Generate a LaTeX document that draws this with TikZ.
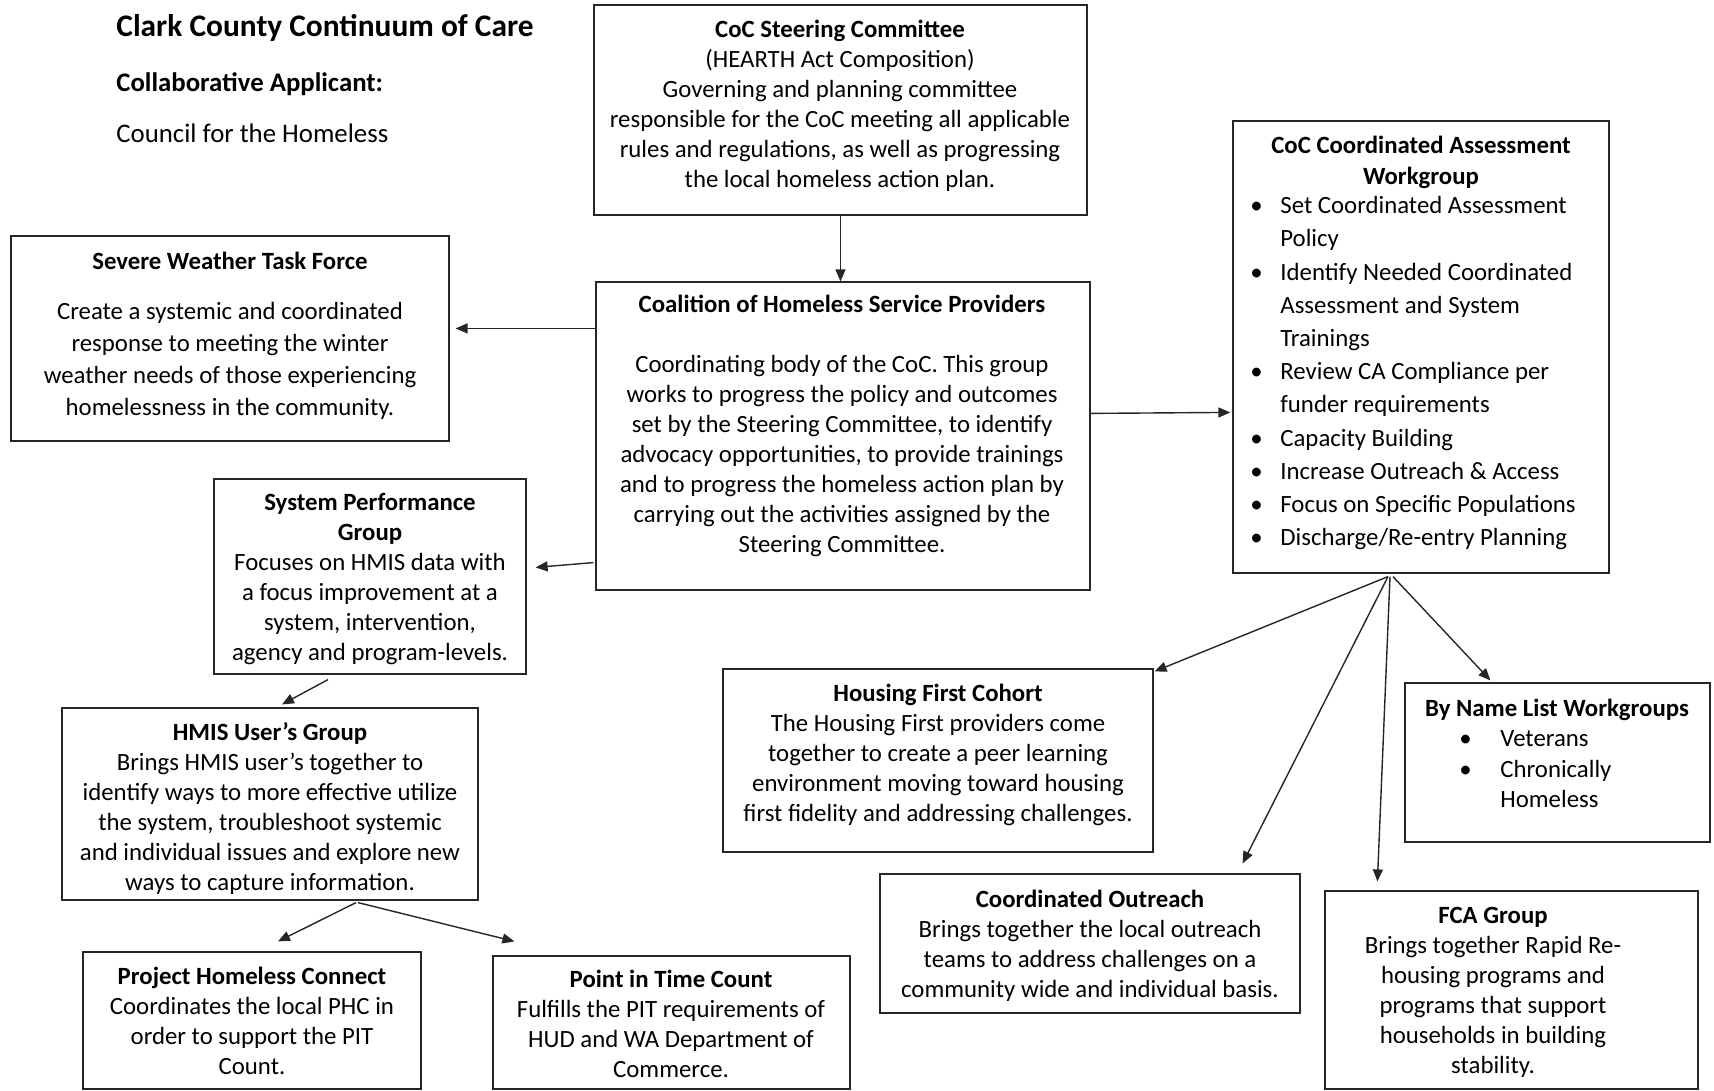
\documentclass[tikz,border=0pt]{standalone}
\usepackage{fontspec}
\setmainfont{Carlito}
\usetikzlibrary{arrows.meta,calc}
\newcommand\bodyfont{\fontsize{12.4}{15}\selectfont}
\tikzset{
  box/.style={draw=black!85, line width=0.6pt, inner sep=0pt, rectangle},
  txt/.style={inner sep=0pt, align=center, font=\bodyfont, anchor=north},
  lst/.style={inner sep=0pt, align=left, anchor=north west},
  arr/.style={draw=black!85, line width=0.7pt, -{Triangle[length=6pt,width=5pt]}}
}
\begin{document}
\begin{tikzpicture}[x=0.5pt,y=-0.5pt]
\useasboundingbox (0,0) rectangle (1714,1091);
\fill[white] (0,0) rectangle (1714,1091);

% header
\node[inner sep=0pt, anchor=base west, font=\fontsize{15.7}{19}\selectfont\bfseries] (title) at (116,37) {Clark County Continuum of Care};
\node[inner sep=0pt, anchor=base west, font=\fontsize{13.4}{15}\selectfont\bfseries] (collab) at (116,92) {Collaborative Applicant:};
\node[inner sep=0pt, anchor=base west, font=\fontsize{13.4}{15}\selectfont] (council) at (116,143) {Council for the Homeless};

% boxes
\node[box, minimum width=246.5pt, minimum height=105pt] (steer) at (840.5,110) {};
\node[box, minimum width=247pt, minimum height=154pt] (coal) at (843,436) {};
\node[box, minimum width=219pt, minimum height=102.5pt] (severe) at (230,338.5) {};
\node[box, minimum width=156pt, minimum height=97.5pt] (sysperf) at (370,576.5) {};
\node[box, minimum width=208pt, minimum height=96pt] (hmis) at (270,804) {};
\node[box, minimum width=169pt, minimum height=68.5pt] (phc) at (252,1020.5) {};
\node[box, minimum width=178.5pt, minimum height=66.5pt] (pit) at (671.5,1022.5) {};
\node[box, minimum width=188pt, minimum height=226pt] (ca) at (1421,347) {};
\node[box, minimum width=215pt, minimum height=91.5pt] (hfc) at (938,760.5) {};
\node[box, minimum width=152.5pt, minimum height=79.5pt] (bnl) at (1557.5,762.5) {};
\node[box, minimum width=210pt, minimum height=69.5pt] (co) at (1090,943.5) {};
\node[box, minimum width=186.5pt, minimum height=99pt] (fca) at (1511.5,990) {};

% texts
\node[txt] (steert) at (840,16.5) {\strut\textbf{CoC Steering Committee}\\(HEARTH Act Composition)\\Governing and planning committee\\responsible for the CoC meeting all applicable\\rules and regulations, as well as progressing\\the local homeless action plan.};
\node[txt] (coalt) at (842,291) {\strut\textbf{Coalition of Homeless Service Providers}\\[15pt]Coordinating body of the CoC. This group\\works to progress the policy and outcomes\\set by the Steering Committee, to identify\\advocacy opportunities, to provide trainings\\and to progress the homeless action plan by\\carrying out the activities assigned by the\\Steering Committee.};
\node[txt, font=\fontsize{12.4}{16}\selectfont] (severet) at (230,247) {\strut\textbf{Severe Weather Task Force}\\[9pt]Create a systemic and coordinated\\response to meeting the winter\\weather needs of those experiencing\\homelessness in the community.};
\node[txt] (sysperft) at (370,489) {\strut\textbf{System Performance}\\\textbf{Group}\\Focuses on HMIS data with\\a focus improvement at a\\system, intervention,\\agency and program-levels.};
\node[txt] (hmist) at (270,719) {\strut\textbf{HMIS User’s Group}\\Brings HMIS user’s together to\\identify ways to more effective utilize\\the system, troubleshoot systemic\\and individual issues and explore new\\ways to capture information.};
\node[txt] (phct) at (252,963) {\strut\textbf{Project Homeless Connect}\\Coordinates the local PHC in\\order to support the PIT\\Count.};
\node[txt] (pitt) at (671,966) {\strut\textbf{Point in Time Count}\\Fulfills the PIT requirements of\\HUD and WA Department of\\Commerce.};
\node[txt] (hfct) at (938,680) {\strut\textbf{Housing First Cohort}\\The Housing First providers come\\together to create a peer learning\\environment moving toward housing\\first fidelity and addressing challenges.};
\node[txt] (cot) at (1090,886) {\strut\textbf{Coordinated Outreach}\\Brings together the local outreach\\teams to address challenges on a\\community wide and individual basis.};
\node[txt] (fcat) at (1493,902) {\strut\textbf{FCA Group}\\Brings together Rapid Re-\\housing programs and\\programs that support\\households in building\\stability.};
\node[txt, font=\fontsize{12.4}{15.5}\selectfont] (cat) at (1421,131) {\strut\textbf{CoC Coordinated Assessment}\\\textbf{Workgroup}};
\node[lst, font=\fontsize{12.4}{16.6}\selectfont] (cal) at (1250,190) {\strut\makebox[15pt][l]{\textbullet}Set Coordinated Assessment\\\hspace*{15pt}Policy\\\makebox[15pt][l]{\textbullet}Identify Needed Coordinated\\\hspace*{15pt}Assessment and System\\\hspace*{15pt}Trainings\\\makebox[15pt][l]{\textbullet}Review CA Compliance per\\\hspace*{15pt}funder requirements\\\makebox[15pt][l]{\textbullet}Capacity Building\\\makebox[15pt][l]{\textbullet}Increase Outreach \& Access\\\makebox[15pt][l]{\textbullet}Focus on Specific Populations\\\makebox[15pt][l]{\textbullet}Discharge/Re-entry Planning};
\node[txt] (bnlt) at (1557,695) {\strut\textbf{By Name List Workgroups}};
\node[lst, font=\fontsize{12.4}{15.3}\selectfont] (bnll) at (1459,724.6) {\strut\makebox[20.5pt][l]{\textbullet}Veterans\\\makebox[20.5pt][l]{\textbullet}Chronically\\\hspace*{20.5pt}Homeless};

% connectors
\draw[arr] (steer.south) -- (steer.south |- coal.north);
\draw[arr] ($(coal.north west)+(0,47)$) -- ($(severe.north east)+(6,93)$);
\draw[arr] ($(coal.south west)+(-2,-28)$) -- ($(sysperf.north east)+(9,89)$);
\draw[arr] ($(coal.north east)+(0,132)$) -- ($(ca.north west)+(-2,292)$);
\draw[arr] ($(sysperf.south)+(-42,5)$) -- ($(hmis.north)+(12,-3)$);
\draw[arr] ($(hmis.south)+(86,2)$) -- ($(phc.north)+(26,-10)$);
\draw[arr] ($(hmis.south)+(88,2)$) -- ($(pit.north west)+(22,-14)$);
\draw[arr] ($(ca.south)+(-33,3)$) -- ($(hfc.north east)+(1,3)$);
\draw[arr] ($(ca.south)+(-33,3)$) -- ($(co.north east)+(-58,-10)$);
\draw[arr] ($(ca.south)+(-31,3)$) -- ($(fca.north west)+(53,-9)$);
\draw[arr] ($(ca.south)+(-28,3)$) -- ($(bnl.north west)+(86,-2)$);
\end{tikzpicture}
\end{document}
